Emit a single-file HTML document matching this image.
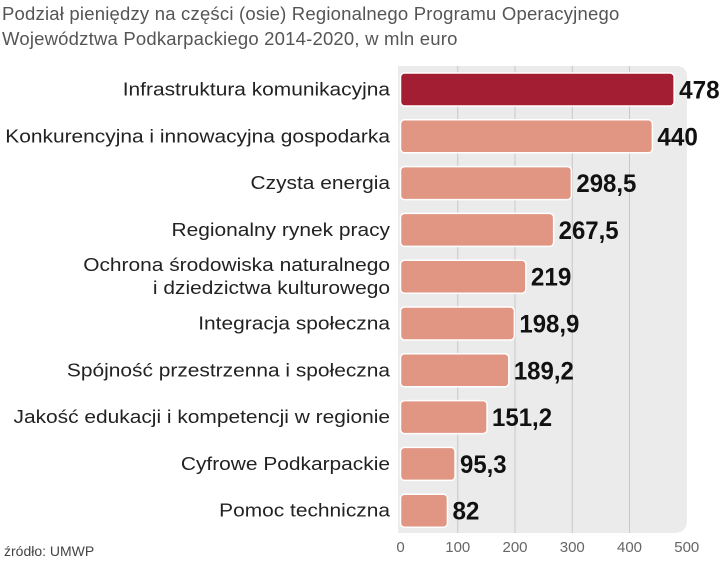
<!DOCTYPE html>
<html><head><meta charset="utf-8"><style>
body{margin:0;background:#fff;}
#c{position:relative;width:720px;height:564px;overflow:hidden;font-family:"Liberation Sans",sans-serif;}
.t{position:absolute;left:2px;font-size:18.5px;color:#555;white-space:nowrap;letter-spacing:0.2px;}
</style></head><body>
<div id="c">
<div class="t" style="top:3px">Podział pieniędzy na części (osie) Regionalnego Programu Operacyjnego</div>
<div class="t" style="top:28px">Województwa Podkarpackiego 2014-2020, w mln euro</div>
<svg id="s" width="720" height="564" style="position:absolute;left:0;top:0"></svg>
<div style="position:absolute;left:4px;top:543px;font-size:14px;color:#444">źródło: UMWP</div>
</div>
<script>
const categories=[["Infrastruktura komunikacyjna"],["Konkurencyjna i innowacyjna gospodarka"],["Czysta energia"],["Regionalny rynek pracy"],["Ochrona środowiska naturalnego","i dziedzictwa kulturowego"],["Integracja społeczna"],["Spójność przestrzenna i społeczna"],["Jakość edukacji i kompetencji w regionie"],["Cyfrowe Podkarpackie"],["Pomoc techniczna"]];
const values=[478,440,298.5,267.5,219,198.9,189.2,151.2,95.3,82];
const valueLabels=["478","440","298,5","267,5","219","198,9","189,2","151,2","95,3","82"];
const ticks=[0,100,200,300,400,500];
const NS="http://www.w3.org/2000/svg";
const svg=document.getElementById('s');
const x=v=>400.5+v*0.5725;
const y=i=>89.5+i*46.8;
function mk(t,a,p){const e=document.createElementNS(NS,t);for(const k in a)e.setAttribute(k,a[k]);(p||svg).appendChild(e);return e;}
const bg=mk('path',{d:'M398 66 H676 Q687 66 687 77 V520 Q687 533 674 533 H398 Z',fill:'#ebebeb'});


ticks.forEach(t=>{
  if(t>0&&t<500){const g=mk('line',{x1:x(t),x2:x(t),y1:66,y2:533,stroke:'#c8c8c8','stroke-width':1});
  
  }
  const l=mk('text',{x:x(t),y:552,'text-anchor':'middle','font-size':15,fill:'#666'});l.textContent=t;
  
  
});
values.forEach((v,i)=>{
  const r=mk('rect',{x:x(0),y:y(i)-16.5,width:x(v)-x(0),height:33,rx:4,fill:i==0?'#a31d33':'#e09682',stroke:'#fff','stroke-width':1.5});
  
  
  const s=valueLabels[i];
  const n=s.replace(',','').length, cm=s.includes(',')?1:0;
  const vl=mk('text',{x:x(v)+5,y:y(i)+9,'font-size':25,'font-weight':'bold',fill:'#111',textLength:n*13.5+cm*6,lengthAdjust:'spacingAndGlyphs'});
  vl.textContent=s;
  
  
  const lines=categories[i];
  lines.forEach((s,j)=>{
    const c=mk('text',{x:390,y:y(i)+6+(j-(lines.length-1)/2)*23,'text-anchor':'end','font-size':18.5,fill:'#222'});
    c.textContent=s;
    const w=c.getComputedTextLength();
    c.setAttribute('textLength',w*1.13);
    c.setAttribute('lengthAdjust','spacingAndGlyphs');
    
    
  });
});
</script>
</body></html>
